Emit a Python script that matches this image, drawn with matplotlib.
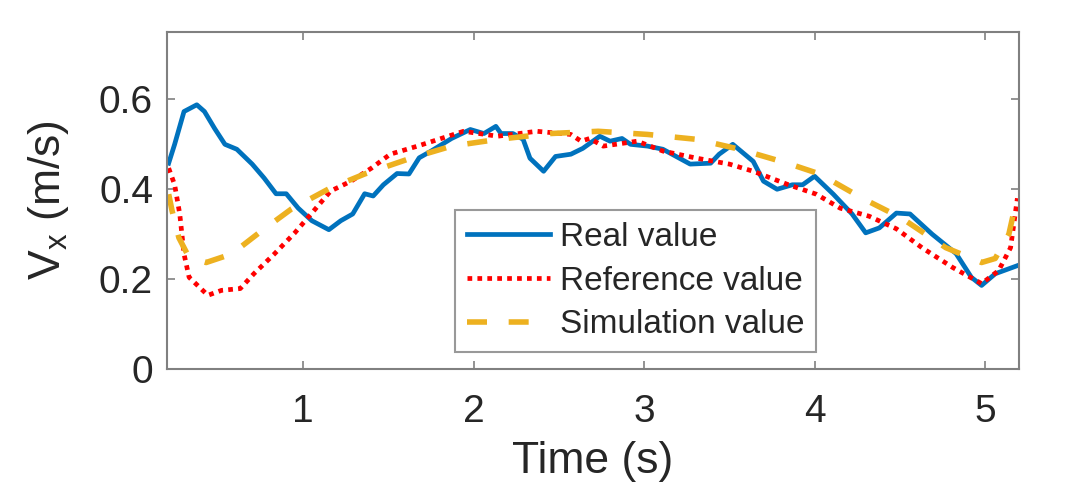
import matplotlib
matplotlib.use('Agg')
import matplotlib.pyplot as plt

# values
t_real = [0.21, 0.245, 0.30, 0.375, 0.42, 0.48, 0.54, 0.61, 0.70, 0.77, 0.84, 0.90,
          0.97, 1.05, 1.15, 1.22, 1.29, 1.36, 1.41, 1.47, 1.55, 1.62, 1.68, 1.75,
          1.87, 1.98, 2.06, 2.13, 2.16, 2.23, 2.29, 2.33, 2.41, 2.48, 2.57, 2.64,
          2.74, 2.80, 2.87, 2.92, 3.02, 3.11, 3.27, 3.39, 3.44, 3.52, 3.64, 3.70,
          3.78, 3.87, 3.93, 4.00, 4.11, 4.22, 4.30, 4.38, 4.48, 4.56, 4.69, 4.83,
          4.92, 4.98, 5.06, 5.19]
v_real = [0.458, 0.50, 0.573, 0.588, 0.573, 0.535, 0.50, 0.489, 0.456, 0.425, 0.39, 0.39,
          0.358, 0.33, 0.31, 0.33, 0.345, 0.39, 0.385, 0.41, 0.435, 0.434, 0.47, 0.485,
          0.513, 0.533, 0.524, 0.54, 0.524, 0.524, 0.511, 0.469, 0.44, 0.473, 0.478, 0.491,
          0.518, 0.507, 0.513, 0.50, 0.496, 0.489, 0.456, 0.458, 0.478, 0.50, 0.462, 0.418,
          0.40, 0.41, 0.41, 0.429, 0.389, 0.345, 0.303, 0.314, 0.347, 0.345, 0.30, 0.257,
          0.204, 0.186, 0.212, 0.23]

t_ref = [0.21, 0.245, 0.275, 0.30, 0.33, 0.44, 0.52, 0.63, 0.71, 0.83, 0.95, 1.05,
         1.16, 1.28, 1.40, 1.51, 1.67, 1.85, 1.94, 2.14, 2.37, 2.57, 2.63, 2.68,
         2.76, 2.96, 3.11, 3.31, 3.50, 3.64, 3.84, 4.01, 4.15, 4.32, 4.48, 4.63,
         4.81, 4.98, 5.08, 5.15, 5.19]
v_ref = [0.447, 0.41, 0.345, 0.256, 0.204, 0.164, 0.175, 0.179, 0.212, 0.256, 0.303, 0.347,
         0.396, 0.418, 0.447, 0.478, 0.496, 0.518, 0.529, 0.518, 0.529, 0.522, 0.507, 0.513,
         0.496, 0.507, 0.485, 0.469, 0.456, 0.44, 0.411, 0.389, 0.358, 0.34, 0.312, 0.27,
         0.226, 0.19, 0.219, 0.27, 0.38]

t_sim = [0.21, 0.23, 0.27, 0.33, 0.43, 0.58, 0.74, 0.93, 1.16, 1.36, 1.63, 1.87,
         2.14, 2.45, 2.73, 3.02, 3.31, 3.56, 3.84, 4.03, 4.28, 4.51, 4.77, 4.98,
         5.06, 5.14, 5.19]
v_sim = [0.389, 0.352, 0.292, 0.248, 0.237, 0.256, 0.303, 0.356, 0.403, 0.434, 0.469, 0.496,
         0.511, 0.524, 0.529, 0.522, 0.511, 0.489, 0.458, 0.434, 0.38, 0.336, 0.27, 0.237,
         0.246, 0.30, 0.385]

x_ticks = [1, 2, 3, 4, 5]
y_ticks = [0, 0.2, 0.4, 0.6]

plt.rcParams['font.family'] = ['Liberation Sans', 'DejaVu Sans']
plt.rcParams['mathtext.fontset'] = 'custom'
plt.rcParams['mathtext.rm'] = 'Liberation Sans'

fig = plt.figure(figsize=(10.8, 4.92), dpi=100)
ax = fig.add_axes([0.1546, 0.25, 0.789, 0.685])

ax.plot(t_real, v_real, color='#0072BD', linewidth=3.4, label='Real value')
ax.plot(t_ref, v_ref, color='#FF0000', linewidth=3.4, linestyle=(0, (1, 1.1)),
        label='Reference value')
ax.plot(t_sim, v_sim, color='#EDB120', linewidth=4, linestyle=(0, (3.6, 3.9)),
        label='Simulation value')

ax.set_xlim(0.2, 5.2)
ax.set_ylim(0, 0.75)
ax.set_xticks(x_ticks)
ax.set_yticks(y_ticks)
ax.set_xticklabels([str(v) for v in x_ticks])
ax.set_yticklabels(['0', '0.2', '0.4', '0.6'])

for s in ax.spines.values():
    s.set_color('#808080')
    s.set_linewidth(1.5)
ax.tick_params(direction='in', length=6, width=1.2, color='#808080',
               top=True, right=True, labelsize=28, labelcolor='#262626')
ax.tick_params(axis='x', pad=18)
ax.tick_params(axis='y', pad=10)

ax.set_xlabel('Time (s)', fontsize=32, color='#262626', labelpad=8)
ax.set_ylabel(r'V$_\mathregular{x}$ (m/s)', fontsize=32, color='#262626', labelpad=20)

leg = ax.legend(loc='lower left', bbox_to_anchor=(0.338, 0.05), fontsize=24,
                frameon=True, fancybox=False, handlelength=2.5, handletextpad=0.3,
                borderpad=0.35, labelspacing=0.38, borderaxespad=0)
leg.get_frame().set_edgecolor('#808080')
leg.get_frame().set_linewidth(1.5)
for txt in leg.get_texts():
    txt.set_color('#262626')

fig.savefig('out.png', dpi=100)
